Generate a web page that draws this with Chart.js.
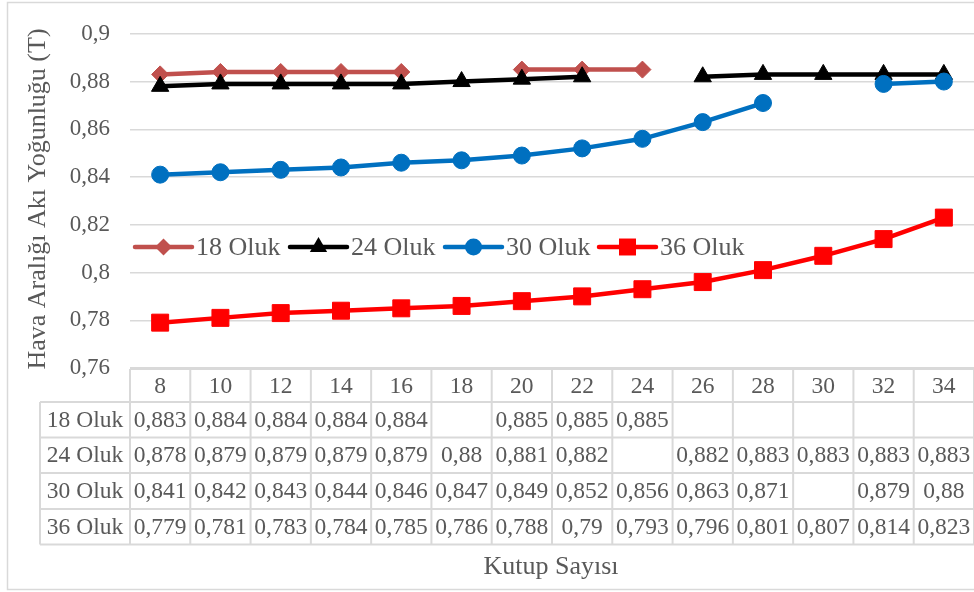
<!DOCTYPE html>
<html>
<head>
<meta charset="utf-8">
<script src="https://cdn.jsdelivr.net/npm/chart.js@4/dist/chart.umd.min.js"></script>
<style>
  html, body { margin: 0; padding: 0; background: #ffffff; overflow: hidden; }
  canvas { display: block; }
</style>
</head>
<body>
<canvas id="chart" width="974" height="592"></canvas>
<script>
// Pole counts (x categories)
const categories = ['8', '10', '12', '14', '16', '18', '20', '22', '24', '26', '28', '30', '32', '34'];

// Air-gap flux density per slot count (T); null = no value
const oluk18 = [0.883, 0.884, 0.884, 0.884, 0.884, null, 0.885, 0.885, 0.885, null, null, null, null, null];
const oluk24 = [0.878, 0.879, 0.879, 0.879, 0.879, 0.88, 0.881, 0.882, null, 0.882, 0.883, 0.883, 0.883, 0.883];
const oluk30 = [0.841, 0.842, 0.843, 0.844, 0.846, 0.847, 0.849, 0.852, 0.856, 0.863, 0.871, null, 0.879, 0.88];
const oluk36 = [0.779, 0.781, 0.783, 0.784, 0.785, 0.786, 0.788, 0.79, 0.793, 0.796, 0.801, 0.807, 0.814, 0.823];

const seriesNames = ['18 Oluk', '24 Oluk', '30 Oluk', '36 Oluk'];
const yMin = 0.76, yMax = 0.9, yStep = 0.02;

const yTitle = 'Hava Aralığı Akı Yoğunluğu (T)';
const xTitle = 'Kutup Sayısı';

const FONT = "'Liberation Serif', 'Times New Roman', serif";
const TEXT = '#595959';
const GRID = '#d9d9d9';
const PLOT_LEFT = 130;

const styles = [
  { color: '#c0504d', marker: 'rectRot', radius: 8.5 },
  { color: '#000000', marker: 'triangle', radius: 10 },
  { color: '#0070c0', marker: 'circle', radius: 8.5 },
  { color: '#ff0000', marker: 'rect', radius: 12 }
];
const seriesData = [oluk18, oluk24, oluk30, oluk36];

function fmt(v) {
  return parseFloat(Number(v).toFixed(3)).toString().replace('.', ',');
}

function drawMarker(ctx, type, x, y, r, color) {
  ctx.save();
  ctx.fillStyle = color;
  ctx.beginPath();
  if (type === 'circle') {
    ctx.arc(x, y, r, 0, Math.PI * 2);
  } else if (type === 'rect') {
    const s = Math.SQRT1_2 * r;
    ctx.rect(x - s, y - s, 2 * s, 2 * s);
  } else if (type === 'rectRot') {
    ctx.moveTo(x, y - r); ctx.lineTo(x + r, y); ctx.lineTo(x, y + r); ctx.lineTo(x - r, y);
    ctx.closePath();
  } else if (type === 'triangle') {
    const a = Math.PI * 2 / 3;
    ctx.moveTo(x, y - r);
    ctx.lineTo(x + Math.sin(a) * r, y - Math.cos(a) * r);
    ctx.lineTo(x + Math.sin(2 * a) * r, y - Math.cos(2 * a) * r);
    ctx.closePath();
  }
  ctx.fill();
  ctx.restore();
}

// Plot area spans the full width to the right edge; frame, titles, legend and data table
const decorations = {
  id: 'decorations',
  afterLayout(chart) {
    const a = chart.chartArea;
    a.left = PLOT_LEFT;
    a.right = chart.width;
    a.width = a.right - a.left;
    const xs = chart.scales.x;
    xs.left = a.left;
    xs.right = a.right;
    xs.width = a.width;
    xs.configure();
  },
  beforeDraw(chart) {
    const ctx = chart.ctx;
    ctx.save();
    ctx.fillStyle = '#ffffff';
    ctx.fillRect(0, 0, chart.width, chart.height);
    ctx.strokeStyle = GRID;
    ctx.lineWidth = 1.5;
    ctx.strokeRect(7.5, 2.5, chart.width + 20, 587);
    ctx.restore();
  },
  afterDatasetsDraw(chart) {
    const ctx = chart.ctx;
    // legend
    const starts = [135, 290, 445, 599];
    const ly = 247;
    ctx.save();
    ctx.font = '26px ' + FONT;
    ctx.textBaseline = 'middle';
    seriesNames.forEach((name, i) => {
      const st = styles[i];
      const x0 = starts[i], x1 = x0 + 57;
      ctx.strokeStyle = st.color;
      ctx.lineWidth = 4.5;
      ctx.lineCap = 'round';
      ctx.beginPath(); ctx.moveTo(x0, ly); ctx.lineTo(x1, ly); ctx.stroke();
      drawMarker(ctx, st.marker, (x0 + x1) / 2, ly, st.radius, st.color);
      ctx.fillStyle = TEXT;
      ctx.textAlign = 'left';
      ctx.fillText(name, x1 + 4, ly + 1);
    });
    ctx.restore();
  },
  afterDraw(chart) {
    const ctx = chart.ctx;
    const xs = chart.scales.x;
    const colW = xs.getPixelForValue(1) - xs.getPixelForValue(0);
    const left = xs.getPixelForValue(0) - colW / 2;
    const right = left + colW * categories.length;
    const labelLeft = 40;
    const rows = [369, 402, 437.5, 473, 509, 544.5];

    ctx.save();
    ctx.strokeStyle = GRID;
    ctx.lineWidth = 2;
    // horizontals
    ctx.beginPath();
    ctx.moveTo(left, rows[0]); ctx.lineTo(right, rows[0]);
    for (let r = 1; r < rows.length; r++) {
      ctx.moveTo(labelLeft, rows[r]); ctx.lineTo(right, rows[r]);
    }
    // verticals
    ctx.moveTo(labelLeft, rows[1]); ctx.lineTo(labelLeft, rows[rows.length - 1]);
    for (let c = 0; c <= categories.length; c++) {
      const x = left + c * colW;
      ctx.moveTo(x, rows[0]); ctx.lineTo(x, rows[rows.length - 1]);
    }
    ctx.stroke();

    ctx.fillStyle = TEXT;
    ctx.font = '23.5px ' + FONT;
    ctx.textAlign = 'center';
    ctx.textBaseline = 'middle';
    categories.forEach((c, i) => {
      ctx.fillText(c, xs.getPixelForValue(i), (rows[0] + rows[1]) / 2 + 1);
    });
    seriesNames.forEach((name, s) => {
      const yc = (rows[s + 1] + rows[s + 2]) / 2 + 1;
      ctx.fillText(name, (labelLeft + left) / 2, yc);
      seriesData[s].forEach((v, i) => {
        if (v !== null) ctx.fillText(fmt(v), xs.getPixelForValue(i), yc);
      });
    });

    // axis titles
    ctx.font = '26px ' + FONT;
    ctx.fillText(xTitle, 551, 567);
    ctx.translate(38, 199);
    ctx.rotate(-Math.PI / 2);
    ctx.fillText(yTitle, 0, 0);
    ctx.restore();
  }
};

const datasets = seriesNames.map((name, i) => ({
  label: name,
  data: seriesData[i],
  borderColor: styles[i].color,
  backgroundColor: styles[i].color,
  borderWidth: 4.5,
  pointStyle: styles[i].marker,
  pointRadius: styles[i].radius,
  pointHoverRadius: styles[i].radius,
  pointBorderWidth: 1,
  pointBorderColor: styles[i].color,
  pointBackgroundColor: styles[i].color,
  tension: 0,
  spanGaps: false,
  clip: false,
  order: seriesNames.length - 1 - i
}));

new Chart(document.getElementById('chart'), {
  type: 'line',
  data: { labels: categories, datasets },
  options: {
    responsive: false,
    animation: false,
    devicePixelRatio: 1,
    layout: { padding: { left: 0, right: 0, top: 32, bottom: 224 } },
    plugins: {
      legend: { display: false },
      tooltip: { enabled: false }
    },
    scales: {
      x: {
        type: 'category',
        offset: true,
        display: false
      },
      y: {
        min: yMin,
        max: yMax,
        afterFit(scale) { scale.width = PLOT_LEFT; },
        border: { display: false },
        grid: { color: GRID, lineWidth: 1.5, drawTicks: false },
        ticks: {
          stepSize: yStep,
          padding: 20,
          color: TEXT,
          font: { family: FONT, size: 23 },
          callback: (v) => fmt(v)
        }
      }
    }
  },
  plugins: [decorations]
});
</script>
</body>
</html>
